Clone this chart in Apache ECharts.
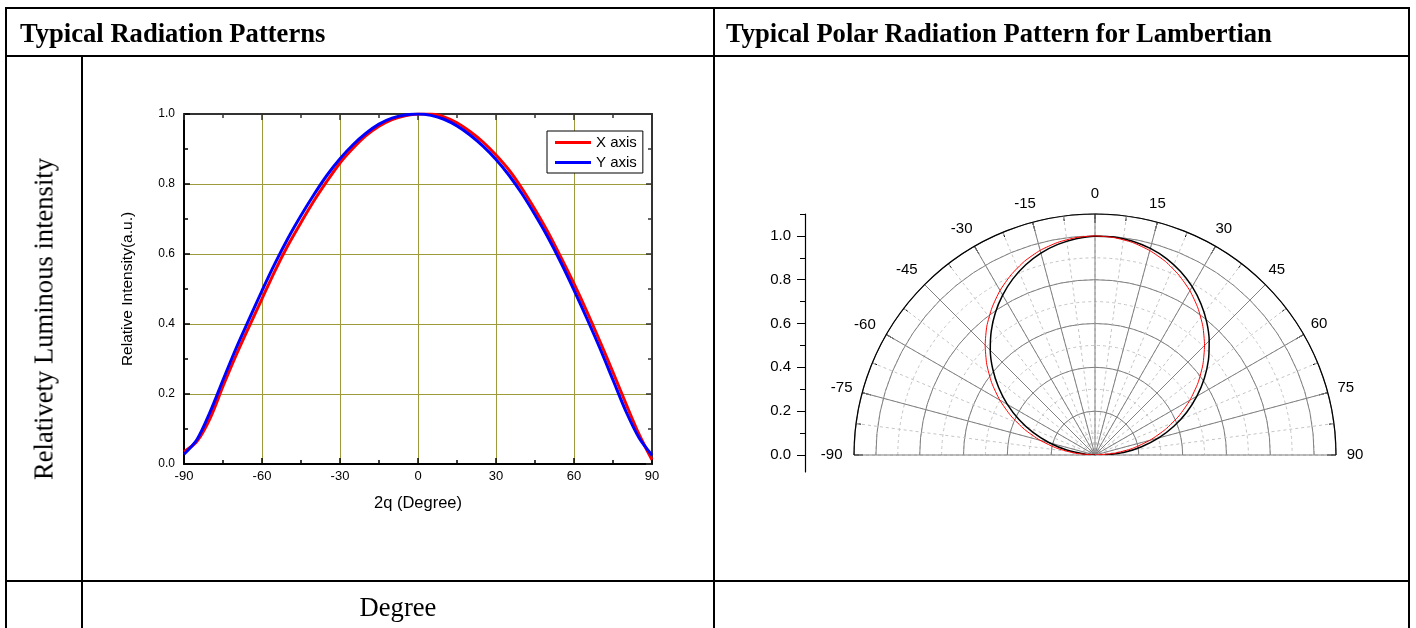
<!DOCTYPE html>
<html><head><meta charset="utf-8">
<script src="https://cdn.jsdelivr.net/npm/echarts@6/dist/echarts.min.js"></script>
<style>
html,body{margin:0;padding:0;background:#fff;width:1416px;height:628px;overflow:hidden;}
#chart{position:absolute;left:0;top:0;width:1416px;height:628px;}
.ln{position:absolute;background:#000;}
.t{position:absolute;font-family:"Liberation Serif","Times New Roman",serif;color:#000;white-space:nowrap;line-height:27px;font-size:26.6px;}
</style></head><body>
<div id="chart"></div>
<div class="ln" style="left:5px;top:7px;width:1405px;height:2px"></div>
<div class="ln" style="left:5px;top:55px;width:1405px;height:2px"></div>
<div class="ln" style="left:5px;top:580px;width:1405px;height:2px"></div>
<div class="ln" style="left:5px;top:7px;width:2px;height:640px"></div>
<div class="ln" style="left:81px;top:55px;width:2px;height:600px"></div>
<div class="ln" style="left:713px;top:7px;width:2px;height:640px"></div>
<div class="ln" style="left:1408px;top:7px;width:2px;height:640px"></div>
<div class="t" style="left:20px;top:20px;font-weight:bold">Typical Radiation Patterns</div>
<div class="t" style="left:726px;top:20px;font-weight:bold">Typical Polar Radiation Pattern for Lambertian</div>
<div class="t" style="left:44px;top:319px;transform:translate(-50%,-50%) rotate(-90deg)">Relativety Luminous intensity</div>
<div class="t" style="left:398px;top:607px;transform:translate(-50%,-50%)">Degree</div>
<script>
// ---- Left chart: relative intensity vs angle ----
const degrees = [-90,-85,-80,-75,-70,-65,-60,-55,-50,-45,-40,-35,-30,-25,-20,-15,-10,-5,0,5,10,15,20,25,30,35,40,45,50,55,60,65,70,75,80,85,90];
const xAxisIntensity = [0.035,0.065,0.13,0.222,0.31,0.392,0.472,0.552,0.625,0.69,0.752,0.808,0.86,0.902,0.938,0.965,0.984,0.995,1.0,1.0,0.992,0.975,0.95,0.92,0.883,0.84,0.787,0.727,0.662,0.59,0.515,0.435,0.35,0.262,0.172,0.085,0.012];
const yAxisIntensity = [0.028,0.07,0.148,0.24,0.33,0.413,0.495,0.573,0.645,0.71,0.77,0.825,0.872,0.912,0.945,0.971,0.988,0.997,1.0,0.996,0.985,0.966,0.94,0.908,0.87,0.825,0.772,0.712,0.647,0.575,0.497,0.415,0.33,0.24,0.15,0.075,0.025];
const seriesNames = ['X axis','Y axis'];

// ---- Right chart: polar pattern ----
const polarAngles = [-90,-85,-80,-75,-70,-65,-60,-55,-50,-45,-40,-35,-30,-25,-20,-15,-10,-5,0,5,10,15,20,25,30,35,40,45,50,55,60,65,70,75,80,85,90];
const lambertian = [0,0.044,0.131,0.216,0.301,0.383,0.462,0.537,0.609,0.676,0.737,0.793,0.843,0.887,0.924,0.954,0.976,0.991,0.999,0.999,0.991,0.976,0.954,0.924,0.887,0.843,0.793,0.737,0.676,0.609,0.537,0.462,0.383,0.301,0.216,0.131,0.044];
const measured = [0,0.088,0.175,0.26,0.343,0.424,0.502,0.576,0.645,0.709,0.768,0.82,0.867,0.907,0.941,0.967,0.985,0.996,1.0,0.996,0.985,0.966,0.94,0.906,0.866,0.819,0.766,0.707,0.643,0.574,0.5,0.423,0.342,0.259,0.174,0.087,0];
const radialMajorTicks = [0,0.2,0.4,0.6,0.8,1.0];
const radialMinorTicks = [0.1,0.3,0.5,0.7,0.9,1.1];

// label spacing per angle label (style only): [horizontal pad away from centre, bottom pad]
const anglePad = {'-90':[11.5,0],'-75':[9.7,8.6],'-60':[10.5,2],'-45':[7,7],'-30':[2,9.5],'-15':[15,10.5],
  '0':[0,13],'15':[0,11],'30':[0,10],'45':[3,7],'60':[7,3],'75':[9.6,10],'90':[10.7,0]};
const sans = 'Liberation Sans, Arial, sans-serif';
const angleRich = {};
Object.keys(anglePad).forEach((k, i) => {
  const h = anglePad[k][0], b = anglePad[k][1];
  const v = Number(k);
  angleRich['a' + i] = {fontSize: 15, color: '#000', fontFamily: sans,
    padding: v < 0 ? [0, h, b, 0] : [0, 0, b, h]};
});
const angleKeys = Object.keys(anglePad);

const olive = '#9b9b3c';
const chart = echarts.init(document.getElementById('chart'), null, {renderer:'canvas'});
const tickBlack = {color:'#000', width:1.5};
const tickDark = {color:'#333', width:1.5};

const option = {
  animation: false,
  textStyle: {fontFamily: sans},
  legend: {
    orient: 'vertical', left: 547, top: 131,
    data: seriesNames, icon: 'rect', itemWidth: 36, itemHeight: 3, itemGap: 5,
    padding: [4, 6, 3, 8], borderColor: '#000', borderWidth: 1, backgroundColor: '#fff',
    textStyle: {fontSize: 15, color: '#000', fontFamily: sans}
  },
  grid: [
    {left: 184, top: 114, width: 468, height: 350},
    {left: 805, top: 214, width: 10, height: 258}
  ],
  xAxis: [
    {gridIndex: 0, type: 'value', min: -90, max: 90, interval: 30, position: 'bottom',
     axisLine: {onZero: false, lineStyle: {color: '#000', width: 2}},
     axisTick: {inside: true, length: 6, lineStyle: tickBlack},
     minorTick: {show: true, splitNumber: 2, length: 4, lineStyle: tickBlack},
     axisLabel: {color: '#000', fontSize: 13, margin: 6, fontFamily: sans},
     splitLine: {show: true, lineStyle: {color: olive, width: 1}},
     name: '2q (Degree)', nameLocation: 'middle', nameGap: 31,
     nameTextStyle: {fontSize: 16.5, color: '#000', fontFamily: sans}},
    {gridIndex: 0, type: 'value', min: -90, max: 90, interval: 30, position: 'top',
     axisLine: {onZero: false, lineStyle: {color: '#333', width: 2}},
     axisTick: {inside: true, length: 6, lineStyle: tickDark},
     minorTick: {show: true, splitNumber: 2, length: 4, lineStyle: tickDark},
     axisLabel: {show: false}, splitLine: {show: false}},
    {gridIndex: 1, type: 'value', show: false, min: 0, max: 1}
  ],
  yAxis: [
    {gridIndex: 0, type: 'value', min: 0, max: 1, interval: 0.2, position: 'left',
     axisLine: {show: true, onZero: false, lineStyle: {color: '#000', width: 2}},
     axisTick: {show: true, inside: true, length: 6, lineStyle: tickBlack},
     minorTick: {show: true, splitNumber: 2, length: 4, lineStyle: tickBlack},
     axisLabel: {color: '#000', fontSize: 12, margin: 9, fontFamily: sans, formatter: v => v.toFixed(1)},
     splitLine: {show: true, lineStyle: {color: olive, width: 1}},
     name: 'Relative Intensity(a.u.)', nameLocation: 'middle', nameGap: 48,
     nameTextStyle: {fontSize: 15.5, color: '#000', fontFamily: sans}},
    {gridIndex: 0, type: 'value', min: 0, max: 1, interval: 0.2, position: 'right',
     axisLine: {show: true, onZero: false, lineStyle: {color: '#333', width: 2}},
     axisTick: {show: true, inside: true, length: 6, lineStyle: tickDark},
     minorTick: {show: true, splitNumber: 2, length: 4, lineStyle: tickDark},
     axisLabel: {show: false}, splitLine: {show: false}},
    {gridIndex: 1, type: 'value', min: -0.078, max: 1.1, position: 'left',
     axisLine: {show: true, onZero: false, lineStyle: {color: '#000', width: 1.2}},
     axisTick: {show: true, customValues: radialMajorTicks, length: 8, lineStyle: {color: '#000', width: 1}},
     axisLabel: {show: true, customValues: radialMajorTicks, margin: 14, fontSize: 15, color: '#000', fontFamily: sans, formatter: v => v.toFixed(1)},
     splitLine: {show: false}},
    {gridIndex: 1, type: 'value', min: -0.078, max: 1.1, position: 'left',
     axisLine: {show: false, onZero: false},
     axisTick: {show: true, customValues: radialMinorTicks, length: 5, lineStyle: {color: '#000', width: 1}},
     axisLabel: {show: false}, splitLine: {show: false}}
  ],
  polar: [
    {center: [1095, 455], radius: 241},
    {center: [1095, 455], radius: 241}
  ],
  angleAxis: [
    {polarIndex: 0, type: 'value', min: -90, max: 90, interval: 7.5, startAngle: 180, endAngle: 0, clockwise: true,
     axisLine: {show: false},
     axisTick: {show: true, inside: true, length: 5, lineStyle: {color: '#000', width: 1}},
     axisLabel: {show: false},
     splitLine: {show: true, lineStyle: {color: '#c4c4c4', width: 1, type: [3, 3]}}},
    {polarIndex: 1, type: 'value', min: -90, max: 90, interval: 15, startAngle: 180, endAngle: 0, clockwise: true, z: 5,
     axisLine: {show: true, lineStyle: {color: '#000', width: 1.2}},
     axisTick: {show: true, inside: true, length: 9, lineStyle: {color: '#000', width: 1}},
     axisLabel: {show: true, margin: 0, fontSize: 15, color: '#000', fontFamily: sans,
       formatter: v => {
         const i = angleKeys.indexOf(String(v));
         return i < 0 ? String(v) : '{a' + i + '|' + v + '}';
       }, rich: angleRich},
     splitLine: {show: true, lineStyle: {color: '#808080', width: 1}}}
  ],
  radiusAxis: [
    {polarIndex: 0, type: 'value', min: 0, max: 1.1, interval: 0.1,
     axisLine: {show: false}, axisTick: {show: false}, axisLabel: {show: false},
     splitLine: {show: true, lineStyle: {color: '#c4c4c4', width: 1, type: [3, 3]}}},
    {polarIndex: 1, type: 'value', min: 0, max: 1.1, interval: 0.2,
     axisLine: {show: false}, axisTick: {show: false}, axisLabel: {show: false},
     splitLine: {show: true, lineStyle: {color: '#808080', width: 1}}}
  ],
  series: [
    {type: 'line', name: seriesNames[0], xAxisIndex: 0, yAxisIndex: 0, color: '#ff0000',
     data: degrees.map((d, i) => [d, xAxisIntensity[i]]), symbol: 'none', smooth: 0.3,
     lineStyle: {width: 3, color: '#ff0000'}},
    {type: 'line', name: seriesNames[1], xAxisIndex: 0, yAxisIndex: 0, color: '#0000ff',
     data: degrees.map((d, i) => [d, yAxisIntensity[i]]), symbol: 'none', smooth: 0.3,
     lineStyle: {width: 3, color: '#0000ff'}},
    {type: 'line', coordinateSystem: 'polar', polarIndex: 1, color: '#000', z: 6,
     data: polarAngles.map((a, i) => [lambertian[i], a]), symbol: 'none', smooth: 0.2,
     lineStyle: {width: 1.5, color: '#000'}},
    {type: 'line', coordinateSystem: 'polar', polarIndex: 1, color: '#ff0000', z: 7,
     data: polarAngles.map((a, i) => [measured[i], a]), symbol: 'none', smooth: 0.2,
     lineStyle: {width: 1, color: '#ff0000'}}
  ]
};
chart.setOption(option);
</script>
</body></html>
